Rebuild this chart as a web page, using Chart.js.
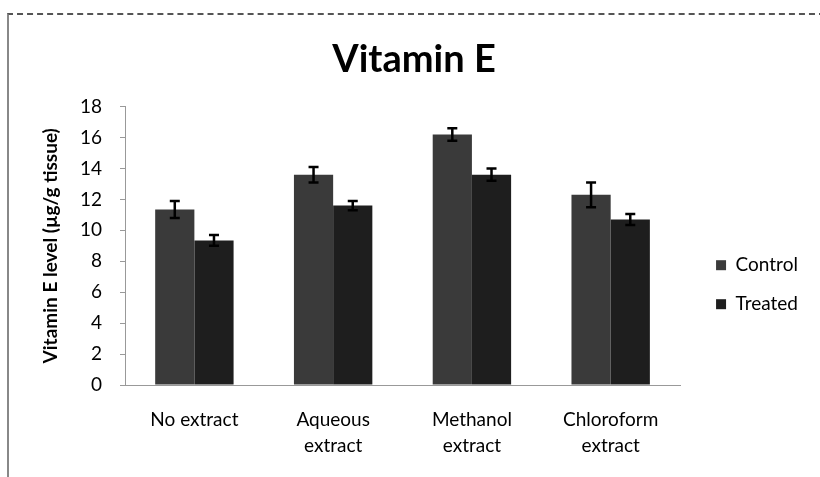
<!DOCTYPE html>
<html>
<head>
  <title>Vitamin E</title>
  <meta charset="utf-8" />
  <style>
    body { margin: 0; background: #fff; }
    #wrap { position: relative; width: 820px; height: 477px; }
    #frame { position: absolute; left: 7px; top: 13px; right: -5px; bottom: -5px;
             border-left: 2px solid #888; border-top: 2px dashed #555; }
    #chart { position: absolute; left: 0; top: 0; }
  </style>
</head>
<body>
  <div id="wrap">
    <div id="frame"></div>
    <canvas id="chart" width="820" height="477"></canvas>
  </div>

  <script src="https://cdn.jsdelivr.net/npm/chart.js"></script>
  <script>
    const categories = [['No extract'], ['Aqueous', 'extract'], ['Methanol', 'extract'], ['Chloroform', 'extract']];
    const controlVals = [11.35, 13.6, 16.2, 12.3];
    const treatedVals = [9.35, 11.6, 13.6, 10.7];
    const controlErr = [0.55, 0.5, 0.4, 0.8];
    const treatedErr = [0.35, 0.3, 0.4, 0.35];

    const FONT = 'Lato, "Open Sans", sans-serif';

    // error bars drawn on top of each bar
    const errorBars = {
      id: 'errorBars',
      afterDatasetsDraw(chart) {
        const ctx = chart.ctx;
        const y = chart.scales.y;
        const errs = [controlErr, treatedErr];
        ctx.save();
        ctx.strokeStyle = '#000';
        ctx.lineWidth = 2.5;
        chart.data.datasets.forEach((ds, i) => {
          chart.getDatasetMeta(i).data.forEach((bar, j) => {
            const v = ds.data[j], e = errs[i][j];
            const top = y.getPixelForValue(v + e), bot = y.getPixelForValue(v - e);
            ctx.beginPath();
            ctx.moveTo(bar.x, top); ctx.lineTo(bar.x, bot);
            ctx.moveTo(bar.x - 5, top); ctx.lineTo(bar.x + 5, top);
            ctx.moveTo(bar.x - 5, bot); ctx.lineTo(bar.x + 5, bot);
            ctx.stroke();
          });
        });
        ctx.restore();
      }
    };

    new Chart(document.getElementById('chart'), {
      type: 'bar',
      data: {
        labels: categories,
        datasets: [
          { label: 'Control', data: controlVals, backgroundColor: '#3a3a3a' },
          { label: 'Treated', data: treatedVals, backgroundColor: '#1e1e1e' }
        ]
      },
      options: {
        responsive: false,
        animation: false,
        layout: { padding: { left: 20, right: 12, bottom: 0, top: 0 } },
        datasets: { bar: { barPercentage: 1.0, categoryPercentage: 0.565 } },
        plugins: {
          title: {
            display: true, text: 'Vitamin E', color: '#000',
            font: { family: FONT, size: 38, weight: 'bold' },
            padding: { top: 37, bottom: 24 }
          },
          legend: {
            position: 'right',
            // blank title just pushes the legend items down
            title: { display: true, text: ' ', padding: { top: 39, bottom: 39 }, font: { size: 12 } },
            labels: {
              color: '#000', boxWidth: 10, boxHeight: 10, padding: 20,
              font: { family: FONT, size: 19 }
            }
          },
          tooltip: { enabled: false }
        },
        scales: {
          x: {
            afterFit: (s) => { s.height = 92; },
            grid: { display: false },
            border: { color: '#999', dash: [2, 2] },
            ticks: { color: '#000', font: { family: FONT, size: 19, lineHeight: 1.37 }, padding: 14 }
          },
          y: {
            min: 0, max: 18,
            afterFit: (s) => { s.width = 105; },
            grid: { drawOnChartArea: false, color: '#999', tickLength: 5 },
            border: { color: '#999', dash: [2, 2] },
            ticks: { stepSize: 2, color: '#000', font: { family: FONT, size: 19 }, padding: 18 },
            title: {
              display: true, text: 'Vitamin E level (µg/g tissue)', color: '#000',
              font: { family: FONT, size: 19, weight: 'bold' }, padding: { top: 19, bottom: 0 }
            }
          },
          // empty spacer between the plot and the legend
          y2: {
            position: 'right',
            afterFit: (s) => { s.width = 16; },
            grid: { display: false },
            border: { display: false },
            ticks: { display: false }
          }
        }
      },
      plugins: [errorBars]
    });
  </script>
</body>
</html>
